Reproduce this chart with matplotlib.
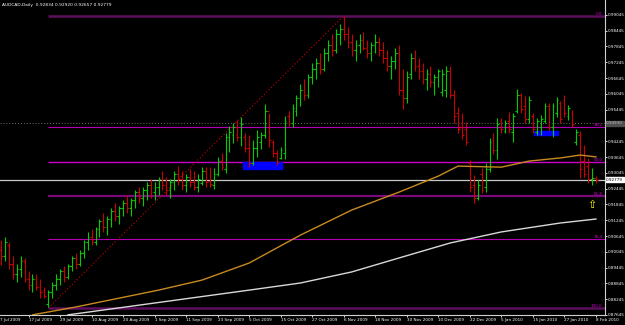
import numpy as np
import pandas as pd
import matplotlib
matplotlib.use('Agg')
import matplotlib.pyplot as plt
from matplotlib.patches import Rectangle

# daily bars, 7 Jul 2009 - 8 Feb 2010 (no 25 Dec / 1 Jan bars)
dates = pd.bdate_range('2009-07-07', '2010-02-08')
dates = dates[~dates.isin(pd.to_datetime(['2009-12-25', '2010-01-01']))]

opens = [.8950, .9010, .8990, .9030, .8960, .8920, .8940, .8970, .8900, .8880,
         .8900, .8870, .8860, .8805, .8850, .8880, .8900, .8930, .8910, .8950,
         .8980, .8960, .9000, .9040, .9060, .9040, .9090, .9120, .9100, .9130,
         .9160, .9140, .9170, .9190, .9170, .9200, .9230, .9210, .9240, .9260,
         .9230, .9250, .9280, .9260, .9240, .9270, .9300, .9280, .9260, .9290,
         .9270, .9250, .9265, .9310, .9275, .9260, .9300, .9350, .9320, .9440,
         .9450, .9480, .9440, .9440, .9400, .9340, .9400, .9420, .9450, .9540,
         .9420, .9380, .9360, .9380, .9520, .9495, .9540, .9590, .9620, .9600,
         .9670, .9700, .9720, .9700, .9760, .9790, .9770, .9830, .9850, .9830,
         .9800, .9770, .9790, .9810, .9780, .9760, .9790, .9800, .9770, .9740,
         .9710, .9730, .9760, .9620, .9590, .9680, .9740, .9710, .9690, .9660,
         .9680, .9650, .9670, .9610, .9620, .9690, .9600, .9530, .9480, .9470,
         .9340, .9260, .9210, .9300, .9250, .9320, .9430, .9390, .9500, .9465,
         .9500, .9460, .9540, .9600, .9560, .9510, .9520, .9460, .9480, .9500,
         .9560, .9480, .9530, .9570, .9580, .9520, .9530, .9420, .9450, .9350,
         .9330, .9280, .92834]
highs = [.9030, .9049, .9060, .9040, .8990, .8960, .8990, .8980, .8930, .8920,
         .8920, .8900, .8870, .8860, .8890, .8920, .8940, .8950, .8960, .8990,
         .9000, .9010, .9050, .9080, .9090, .9100, .9130, .9150, .9140, .9170,
         .9190, .9180, .9200, .9220, .9210, .9240, .9250, .9250, .9270, .9280,
         .9270, .9290, .9310, .9290, .9280, .9310, .9330, .9310, .9300, .9320,
         .9310, .9300, .9326, .9326, .9326, .9322, .9364, .9380, .9456, .9482,
         .9494, .9505, .9517, .9456, .9448, .9429, .9467, .9459, .9566, .9532,
         .9429, .9391, .9402, .9520, .9539, .9566, .9600, .9640, .9660, .9680,
         .9720, .9740, .9760, .9780, .9810, .9830, .9850, .9870, .9901, .9860,
         .9830, .9810, .9830, .9840, .9810, .9800, .9830, .9820, .9800, .9770,
         .9750, .9780, .9790, .9700, .9690, .9760, .9770, .9740, .9720, .9700,
         .9710, .9680, .9700, .9700, .9710, .9710, .9619, .9554, .9532, .9497,
         .9353, .9296, .9277, .9323, .9342, .9437, .9456, .9513, .9513, .9505,
         .9535, .9532, .9623, .9608, .9596, .9596, .9532, .9513, .9524, .9570,
         .9570, .9570, .9592, .9577, .9600, .9562, .9543, .9471, .9463, .9410,
         .9361, .9323, .92920]
lows = [.8935, .8954, .8970, .8940, .8900, .8890, .8910, .8890, .8860, .8850,
        .8860, .8830, .8830, .8795, .8830, .8860, .8880, .8890, .8900, .8930,
        .8940, .8950, .8980, .9010, .9030, .9030, .9060, .9080, .9070, .9100,
        .9120, .9110, .9140, .9150, .9140, .9170, .9190, .9180, .9200, .9210,
        .9200, .9220, .9240, .9220, .9210, .9240, .9260, .9240, .9230, .9250,
        .9240, .9230, .9258, .9250, .9250, .9243, .9292, .9315, .9304, .9383,
        .9418, .9425, .9406, .9383, .9326, .9334, .9364, .9395, .9437, .9402,
        .9364, .9334, .9357, .9357, .9482, .9478, .9520, .9560, .9580, .9590,
        .9640, .9660, .9680, .9690, .9730, .9750, .9760, .9790, .9810, .9780,
        .9750, .9730, .9760, .9770, .9740, .9730, .9760, .9750, .9720, .9690,
        .9660, .9700, .9600, .9545, .9570, .9660, .9690, .9660, .9640, .9620,
        .9630, .9600, .9630, .9596, .9592, .9589, .9494, .9456, .9433, .9410,
        .9231, .9190, .9201, .9228, .9231, .9308, .9376, .9357, .9456, .9456,
        .9456, .9421, .9532, .9532, .9494, .9494, .9456, .9448, .9448, .9494,
        .9467, .9440, .9516, .9494, .9516, .9505, .9478, .9410, .9285, .9288,
        .9266, .9258, .92657]
closes = [.9010, .8990, .9040, .8960, .8920, .8940, .8970, .8900, .8880, .8900,
          .8870, .8850, .8835, .8850, .8880, .8900, .8930, .8910, .8950, .8980,
          .8960, .9000, .9040, .9060, .9040, .9090, .9120, .9100, .9130, .9160,
          .9140, .9170, .9190, .9170, .9200, .9230, .9210, .9240, .9260, .9230,
          .9250, .9280, .9260, .9240, .9270, .9300, .9280, .9260, .9290, .9270,
          .9250, .9280, .9310, .9270, .9262, .9300, .9350, .9325, .9440, .9460,
          .9480, .9440, .9490, .9400, .9340, .9400, .9440, .9450, .9540, .9430,
          .9380, .9345, .9390, .9500, .9495, .9550, .9590, .9620, .9600, .9670,
          .9700, .9720, .9700, .9760, .9790, .9770, .9830, .9850, .9830, .9800,
          .9770, .9790, .9810, .9780, .9760, .9790, .9800, .9770, .9740, .9710,
          .9730, .9760, .9620, .9590, .9670, .9740, .9710, .9690, .9660, .9680,
          .9650, .9670, .9690, .9680, .9690, .9600, .9520, .9470, .9450, .9420,
          .9250, .9210, .9260, .9240, .9320, .9420, .9390, .9490, .9470, .9495,
          .9470, .9520, .9600, .9545, .9510, .9580, .9470, .9500, .9510, .9560,
          .9480, .9560, .9580, .9510, .9530, .9550, .9490, .9460, .9320, .9300,
          .9280, .9283, .92779]

# moving averages read at a few bars
ma_slow_idx = [9, 20, 41, 52, 64, 77, 90, 102, 112, 117, 128, 135, 143, 148, 152]
ma_slow = [.8765, .8795, .8859, .8897, .8962, .9068, .9163, .9231, .9292, .9330,
           .9326, .9349, .9361, .9372, .9365]
ma_long_idx = [18, 40, 64, 77, 90, 102, 115, 128, 143, 152]
ma_long = [.8765, .8810, .8859, .8886, .8928, .8981, .9038, .9080, .9114, .9129]

# fibonacci anchors (bar index, price)
fib_lo = (13, 0.8791)
fib_hi = (88, 0.9901)
fib_levels = [0.0, 38.2, 50.0, 61.8, 76.4, 100.0]

# blue zones: start bar, end bar, low, high
zones = [(62.4, 72.3, 0.9318, 0.9345), (136.3, 142.4, 0.9448, 0.9463)]
hline_price = 0.9493
bid = 0.92779

opens, highs, lows, closes = map(np.array, (opens, highs, lows, closes))
x = np.arange(len(dates))

fig = plt.figure(figsize=(6.25, 3.25), dpi=100, facecolor='black')
ax = fig.add_axes([0, 10 / 325, 605 / 625, 315 / 325], facecolor='black')

# fib lines
fib_colors = {0.0: '#5c0f5c', 38.2: '#b400b4', 50.0: '#cc00cc', 61.8: '#7a0a7a',
              76.4: '#b400b4', 100.0: '#5c0f5c'}
fib_widths = {0.0: 1.8, 38.2: 0.8, 50.0: 1.0, 61.8: 1.6, 76.4: 0.8, 100.0: 1.8}
for lev in fib_levels:
    p = fib_hi[1] - (fib_hi[1] - fib_lo[1]) * lev / 100
    ax.hlines(p, fib_lo[0], 160, color=fib_colors[lev], lw=fib_widths[lev], zorder=1)
    ax.text(153.7, p, f'{lev:.1f}', color='#d000d0', fontsize=3.0,
            ha='right', va='bottom')
ax.plot([fib_lo[0], fib_hi[0]], [fib_lo[1], fib_hi[1]], color='#d00000',
        lw=0.8, ls=(0, (1, 2)), zorder=1)

ax.axhline(hline_price, color='#707070', lw=0.7, ls=(0, (1, 2)), zorder=1)
ax.axhline(bid, color='#c8c8c8', lw=0.9, zorder=1)

for z in zones:
    ax.add_patch(Rectangle((z[0], z[2]), z[1] - z[0], z[3] - z[2],
                           color='#0000ff', zorder=2))

# ohlc bars
colors = np.where(closes >= opens, '#00cc00', '#cc0000')
ax.vlines(x, lows, highs, colors=colors, lw=0.8, zorder=3)
ax.hlines(opens, x - 0.45, x, colors=colors, lw=0.8, zorder=3)
ax.hlines(closes, x, x + 0.45, colors=colors, lw=0.8, zorder=3)

ax.plot(ma_slow_idx, ma_slow, color='#c88a1e', lw=1.0, zorder=4)
ax.plot(ma_long_idx, ma_long, color='#d8d8d8', lw=1.0, zorder=4)

ax.text(151, 0.9184, '\u21e7', color='#ffff00', fontsize=8, ha='center', va='center')

ax.set_xlim(0.76, 154.3)
ax.set_ylim(0.87645, 0.87645 + 315 / 2633)

yt = 0.87645 + 0.006 * np.arange(20)
ax.yaxis.tick_right()
ax.set_yticks(yt)
ax.set_yticklabels([f'{v:.5f}' for v in yt])
ax.set_xticks(x[8::8])
ax.set_xticklabels([f'{d.day} {d.strftime("%b %Y")}' for d in dates[8::8]], ha='left')
ax.tick_params(colors='white', labelsize=3.0, length=1.5, width=0.6, pad=0.6)
fig.text(0.5 / 625, 1 - 320 / 325, '7 Jul 2009', color='white',
         fontsize=3.0, ha='left', va='center')

for s in ['top', 'left']:
    ax.spines[s].set_visible(False)
for s in ['bottom', 'right']:
    ax.spines[s].set_color('#d0d0d0')
    ax.spines[s].set_linewidth(0.8)

ax.text(1.002, bid, f'{bid:.5f}', transform=ax.get_yaxis_transform(),
        fontsize=3.0, color='black', va='center', ha='left',
        bbox=dict(facecolor='white', edgecolor='white', pad=0.4))
ax.text(1.002, hline_price, f'{hline_price:.5f}', transform=ax.get_yaxis_transform(),
        fontsize=3.0, color='#c0c0c0', va='center', ha='left',
        bbox=dict(facecolor='#505050', edgecolor='#505050', pad=0.4))

fig.text(2 / 625, 1 - 5 / 325, 'AUDCAD,Daily  0.92834 0.92920 0.92657 0.92779',
         color='white', fontsize=3.2, va='center', ha='left')

fig.savefig('out.png', dpi=100, facecolor='black')
